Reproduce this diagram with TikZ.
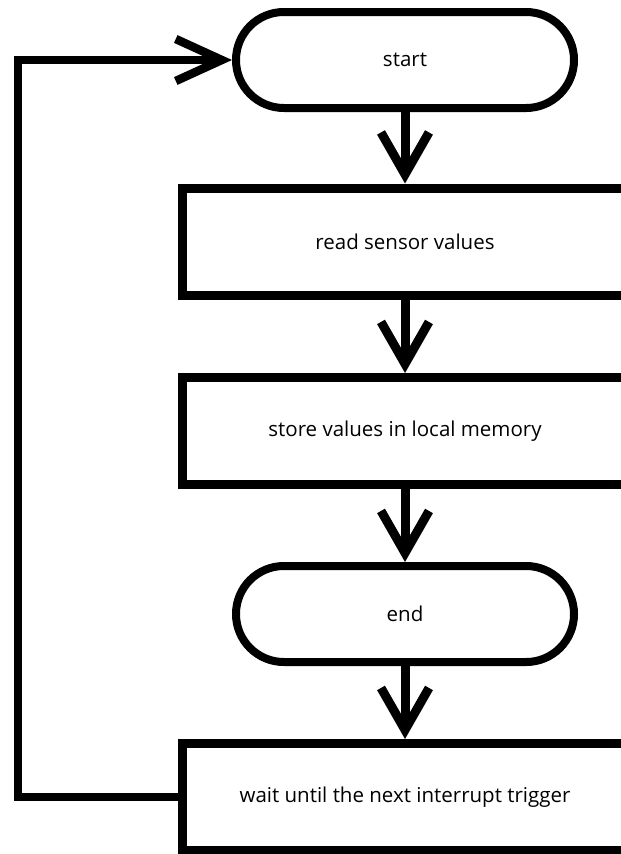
\documentclass[tikz,border=0pt]{standalone}
\usepackage{fontspec}
\setmainfont{Open Sans}
\usetikzlibrary{arrows.meta}

\tikzset{
  terminal/.style={draw,line width=8pt,rounded corners=47.9pt,
    minimum width=338pt,minimum height=96pt,font=\fontsize{20.5}{24}\selectfont},
  stepbox/.style={draw,line width=9pt,minimum width=446pt,minimum height=107pt,
    font=\fontsize{20.5}{24}\selectfont},
  flow/.style={line width=9pt,-{Straight Barb[length=42pt,width=48pt]}},
  backflow/.style={line width=8.5pt,-{Straight Barb[length=46pt,width=42pt]}}
}

\begin{document}
\begin{tikzpicture}[x=1pt,y=-1pt]
  \useasboundingbox (0,0) rectangle (621,854);
  \clip (0,0) rectangle (621,854);
  % flow chart nodes
  \node[terminal] (start) at (405,60) {start};
  \node[stepbox] (read) at (405,241.5) {read sensor values};
  \node[stepbox] (store) at (405,431) {store values in local memory};
  \node[terminal] (stop) at (405,614) {end};
  \node[stepbox] (wait) at (405,797) {wait until the next interrupt trigger};
  % arrows
  \draw[flow] (start) -- (read);
  \draw[flow] (read) -- (store);
  \draw[flow] (store) -- (stop);
  \draw[flow] (stop) -- (wait);
  % loop back to start
  \coordinate (back) at (18,0);
  \draw[backflow] (wait.west) -- (wait.west -| back) |- (start.west);
\end{tikzpicture}
\end{document}
